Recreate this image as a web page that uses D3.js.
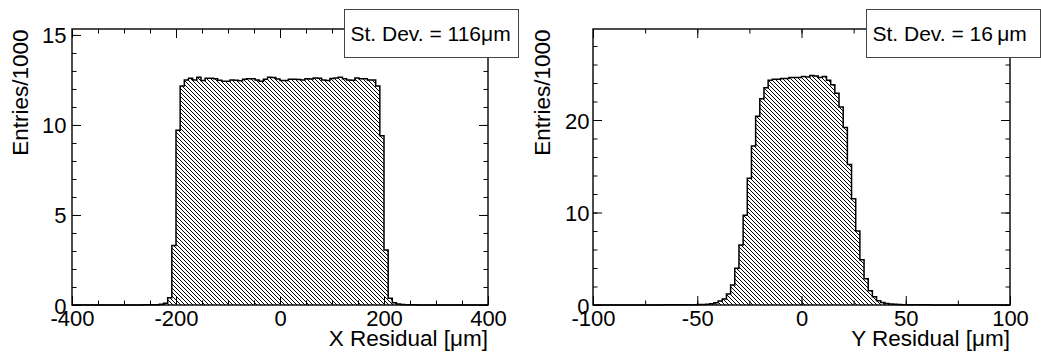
<!DOCTYPE html>
<html>
<head>
<meta charset="utf-8">
<script src="https://cdn.jsdelivr.net/npm/d3@7"></script>
<style>
  html, body { margin: 0; padding: 0; background: #fff; }
  svg { display: block; font-family: "Liberation Sans", Arial, Helvetica, sans-serif; }
</style>
</head>
<body>
<svg id="chart" width="1041" height="354"></svg>
<script>
// X residual: 100 bins over [-400, 400] µm, entries in thousands
const xResRange = [-400, 400];
const xResCounts = [
  0, 0, 0, 0, 0, 0, 0, 0, 0, 0, 0, 0, 0,
  0.002, 0.003, 0.004, 0.005, 0.007, 0.009, 0.012, 0.02, 0.04, 0.1, 0.4, 3.3, 9.7, 12.17,
  12.5, 12.6, 12.5, 12.65, 12.47, 12.6, 12.6, 12.57, 12.48, 12.43, 12.43, 12.5, 12.48, 12.45, 12.54, 12.57,
  12.57, 12.5, 12.43, 12.54, 12.65, 12.63, 12.55, 12.47, 12.47, 12.54, 12.54, 12.52, 12.5, 12.57, 12.55, 12.61,
  12.6, 12.5, 12.47, 12.58, 12.61, 12.65, 12.56, 12.5, 12.48, 12.61, 12.57, 12.57, 12.5, 12.5,
  12.17, 9.4, 3.05, 0.37, 0.12, 0.05, 0.025, 0.015, 0.01, 0.007, 0.005, 0.004, 0.003, 0.002,
  0, 0, 0, 0, 0, 0, 0, 0, 0, 0, 0, 0, 0
];
const xResXTicks = [-400, -200, 0, 200, 400];
const xResYTicks = [0, 5, 10, 15];
const xResStdDev = "St. Dev. = 116\u03bcm";

// Y residual: 100 bins over [-100, 100] µm, entries in thousands
const yResRange = [-100, 100];
const yResCounts = [
  0, 0, 0, 0, 0, 0.002, 0.002, 0.003, 0.003, 0.004, 0.005, 0.005, 0.006, 0.008, 0.009,
  0.01, 0.012, 0.014, 0.016, 0.019, 0.022, 0.026, 0.03, 0.035, 0.04,
  0.05, 0.065, 0.085, 0.13, 0.25, 0.43, 0.65, 1.19, 2.16, 3.96, 6.5, 9.7, 13.7, 17.2, 20.4, 22.3, 23.5, 24.3,
  24.4, 24.4, 24.5, 24.5, 24.6, 24.6, 24.6, 24.7, 24.65, 24.8, 24.75, 24.6, 24.7, 24.3,
  23.8, 22.9, 21.4, 19.2, 15.2, 11.5, 8.0, 4.9, 2.85, 1.55, 0.9, 0.47, 0.28, 0.17, 0.1, 0.07,
  0.05, 0.04, 0.033, 0.028, 0.024, 0.02, 0.017, 0.014, 0.012, 0.01, 0.009, 0.008, 0.007,
  0.006, 0.005, 0.005, 0.004, 0.004, 0.003, 0.003, 0.002, 0.002, 0.002, 0.001, 0.001, 0.001, 0.001
];
const yResXTicks = [-100, -50, 0, 50, 100];
const yResYTicks = [0, 10, 20];
const yResStdDev = "St. Dev. = 16\u2009\u03bcm";

const yTitle = "Entries/1000";

const svg = d3.select("#chart");

// diagonal hatch used as histogram fill
const defs = svg.append("defs");
const hatch = defs.append("pattern")
  .attr("id", "hatch")
  .attr("patternUnits", "userSpaceOnUse")
  .attr("width", 4).attr("height", 4);
d3.range(4).forEach(i => {
  hatch.append("rect").attr("x", i).attr("y", i).attr("width", 1).attr("height", 1).attr("fill", "#000");
});

function drawPanel(cfg) {
  const g = svg.append("g");
  const x = d3.scaleLinear().domain(cfg.range).range([cfg.left, cfg.right]);
  const y = d3.scaleLinear().domain([0, cfg.yMax]).range([cfg.bottom, cfg.top]);

  const n = cfg.counts.length;
  const w = (cfg.range[1] - cfg.range[0]) / n;
  const pts = [[cfg.range[0], 0]];
  cfg.counts.forEach((c, i) => pts.push([cfg.range[0] + i * w, c]));
  pts.push([cfg.range[1], cfg.counts[n - 1]]);
  pts.push([cfg.range[1], 0]);

  const area = d3.area().curve(d3.curveStepAfter)
    .x(d => x(d[0])).y0(y(0)).y1(d => y(d[1]));
  const line = d3.line().curve(d3.curveStepAfter)
    .x(d => x(d[0])).y(d => y(d[1]));

  g.append("path").attr("d", area(pts)).attr("fill", "url(#hatch)");
  g.append("path").attr("d", line(pts))
    .attr("fill", "none").attr("stroke", "#000").attr("stroke-width", 1.5)
    .attr("stroke-linejoin", "miter");

  const xMinor = d3.range(cfg.range[0], cfg.range[1] + 1e-9, cfg.xMinorStep);
  const yMinor = d3.range(0, cfg.yMax, cfg.yMinorStep);

  // ticks point inward on all four sides
  const axes = [
    [d3.axisBottom(x), cfg.bottom, xMinor, cfg.xTicks, true, "x"],
    [d3.axisTop(x), cfg.top, xMinor, cfg.xTicks, false, "x"],
    [d3.axisLeft(y), cfg.left, yMinor, cfg.yTicks, true, "y"],
    [d3.axisRight(y), cfg.right, yMinor, cfg.yTicks, false, "y"]
  ];
  axes.forEach(([ax, pos, minor, major, labelled, dir]) => {
    const tr = dir === "x" ? `translate(0,${pos})` : `translate(${pos},0)`;
    g.append("g").attr("transform", tr)
      .call(ax.tickValues(minor).tickSizeInner(-4.5).tickSizeOuter(0).tickFormat(""))
      .call(s => s.select(".domain").remove())
      .call(s => s.selectAll("line").attr("stroke", "#000").attr("stroke-width", 1));
    const a2 = dir === "x" ? (pos === cfg.bottom ? d3.axisBottom(x) : d3.axisTop(x))
                           : (pos === cfg.left ? d3.axisLeft(y) : d3.axisRight(y));
    const mg = g.append("g").attr("transform", tr)
      .call(a2.tickValues(major).tickSizeInner(-9).tickSizeOuter(0)
        .tickFormat(labelled ? (d => String(d)) : ""))
      .call(s => s.select(".domain").remove())
      .call(s => s.selectAll("line").attr("stroke", "#000").attr("stroke-width", 1));
    mg.selectAll("text").attr("fill", "#000").style("font-size", "22px")
      .attr("font-family", null);
    if (labelled && dir === "x") {
      mg.selectAll("text").attr("y", 21).attr("dy", null).attr("text-anchor", "middle");
    }
    if (labelled && dir === "y") {
      mg.selectAll("text").attr("x", cfg.yLabelX - cfg.left).attr("dy", "8").attr("text-anchor", "end");
    }
    mg.attr("font-size", null).attr("font-family", null);
  });

  // frame
  g.append("rect")
    .attr("x", cfg.left).attr("y", cfg.top)
    .attr("width", cfg.right - cfg.left).attr("height", cfg.bottom - cfg.top)
    .attr("fill", "none").attr("stroke", "#000").attr("stroke-width", 1.4);

  // axis titles
  g.append("text")
    .attr("x", cfg.right).attr("y", 346)
    .attr("text-anchor", "end").style("font-size", "22.5px").attr("fill", "#000")
    .text(cfg.xTitle);
  g.append("text")
    .attr("transform", `translate(${cfg.yTitleX},${cfg.top + 0.5}) rotate(-90)`)
    .attr("text-anchor", "end").style("font-size", "22.5px").attr("fill", "#000")
    .text(yTitle);

  // statistics box
  g.append("rect")
    .attr("x", cfg.box[0]).attr("y", cfg.box[1])
    .attr("width", cfg.box[2]).attr("height", cfg.box[3])
    .attr("fill", "#fff").attr("stroke", "#444").attr("stroke-width", 1);
  g.append("text")
    .attr("x", cfg.box[0] + 6).attr("y", cfg.box[1] + 31)
    .style("font-size", "21px").attr("fill", "#000")
    .text(cfg.stat);
}

drawPanel({
  range: xResRange, counts: xResCounts, xTicks: xResXTicks, yTicks: xResYTicks,
  left: 72, right: 488, top: 29, bottom: 305, yMax: 15.33,
  xMinorStep: 50, yMinorStep: 1, yLabelX: 66.5, yTitleX: 28,
  xTitle: "X Residual [\u03bcm]", stat: xResStdDev, box: [344.5, 9.5, 174, 48]
});

drawPanel({
  range: yResRange, counts: yResCounts, xTicks: yResXTicks, yTicks: yResYTicks,
  left: 593, right: 1010, top: 29, bottom: 305, yMax: 29.84,
  xMinorStep: 25, yMinorStep: 2, yLabelX: 589.5, yTitleX: 550,
  xTitle: "Y Residual [\u03bcm]", stat: yResStdDev, box: [866.5, 9.5, 174, 48]
});
</script>
</body>
</html>
